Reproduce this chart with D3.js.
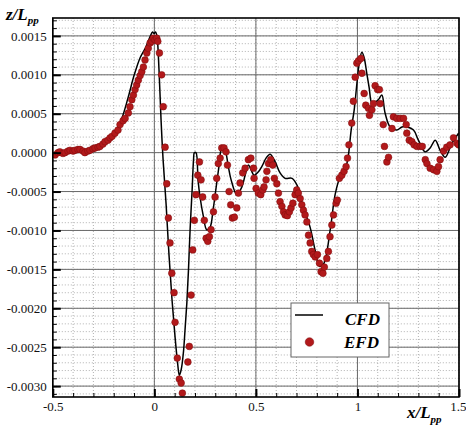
<!DOCTYPE html>
<html lang="en">
<head>
  <meta charset="UTF-8">
  <title>z/Lpp vs x/Lpp</title>
  <style>
    body { margin: 0; background: #fff; }
    svg { display: block; font-family: "Liberation Serif", "Times New Roman", serif; }
    .grid-major line { stroke: #6a6a6a; stroke-width: 1; }
    .grid-minor line { stroke: #a0a0a0; stroke-width: 0.8; stroke-dasharray: 1,2; }
    .axis .tick line { stroke: #000; stroke-width: 2; }
    .axis-minor .tick line { stroke: #000; stroke-width: 1; }
  </style>
</head>
<body>
  <div id="chart"></div>

  <script src="https://d3js.org/d3.v7.min.js"></script>
  <script>
    // tick labels
    const xTicks = [-0.5, 0, 0.5, 1, 1.5];
    const xTickLabels = ["-0.5", "0", "0.5", "1", "1.5"];
    const yTicks = [0.0015, 0.0010, 0.0005, 0.0, -0.0005, -0.0010, -0.0015, -0.0020, -0.0025, -0.0030];
    const yTickLabels = ["0.0015", "0.0010", "0.0005", "0.0000", "-0.0005", "-0.0010", "-0.0015", "-0.0020", "-0.0025", "-0.0030"];

    // CFD curve, [x/Lpp, z/Lpp]
    const cfd = [
      [-0.500, -0.00002], [-0.415, 0.00000], [-0.341, 0.00001], [-0.292, 0.00006], [-0.243, 0.00015],
      [-0.189, 0.00029], [-0.159, 0.00045], [-0.130, 0.00070], [-0.100, 0.00099], [-0.070, 0.00122],
      [-0.041, 0.00136], [-0.021, 0.00149], [-0.009, 0.00155], [-0.001, 0.00153], [0.006, 0.00155],
      [0.013, 0.00149], [0.023, 0.00106], [0.033, 0.00042], [0.043, -0.00009], [0.058, -0.00067],
      [0.072, -0.00131], [0.087, -0.00189], [0.102, -0.00237], [0.114, -0.00269], [0.123, -0.00286],
      [0.132, -0.00279], [0.143, -0.00257], [0.151, -0.00228], [0.160, -0.00193], [0.168, -0.00151],
      [0.176, -0.00099], [0.186, -0.00048], [0.193, -0.00009], [0.197, 0.00000], [0.205, 0.00000],
      [0.215, -0.00035], [0.225, -0.00057], [0.240, -0.00080], [0.258, -0.00099], [0.274, -0.00096],
      [0.289, -0.00074], [0.304, -0.00045], [0.319, -0.00016], [0.332, 0.00006], [0.348, 0.00003],
      [0.363, -0.00016], [0.378, -0.00035], [0.406, -0.00054], [0.431, -0.00044], [0.447, -0.00029],
      [0.463, -0.00016], [0.476, -0.00022], [0.491, -0.00029], [0.511, -0.00025], [0.531, -0.00017],
      [0.550, -0.00007], [0.570, -0.00002], [0.595, -0.00012], [0.619, -0.00026], [0.644, -0.00033],
      [0.678, -0.00033], [0.703, -0.00042], [0.733, -0.00070], [0.767, -0.00096], [0.792, -0.00126],
      [0.813, -0.00146], [0.833, -0.00143], [0.866, -0.00099], [0.890, -0.00054], [0.915, -0.00031],
      [0.939, -0.00022], [0.954, -0.00006], [0.969, 0.00029], [0.984, 0.00055], [0.999, 0.00093],
      [1.011, 0.00119], [1.022, 0.00129], [1.033, 0.00122], [1.046, 0.00102], [1.058, 0.00083],
      [1.071, 0.00064], [1.087, 0.00065], [1.103, 0.00068], [1.120, 0.00074], [1.136, 0.00051],
      [1.161, 0.00033], [1.194, 0.00029], [1.219, 0.00033], [1.245, 0.00033], [1.276, 0.00029],
      [1.300, 0.00016], [1.333, 0.00001], [1.358, 0.00006], [1.383, 0.00016], [1.407, 0.00003],
      [1.432, -0.00006], [1.465, 0.00012], [1.498, 0.00025]
    ];

    // EFD measurements, [x/Lpp, z/Lpp]
    const efd = [
      [-0.489, -0.00003], [-0.474, 0.00000], [-0.465, 0.00001], [-0.450, -0.00001], [-0.440, 0.00000],
      [-0.425, 0.00002], [-0.415, 0.00003], [-0.400, 0.00002], [-0.391, 0.00003], [-0.376, 0.00004],
      [-0.366, 0.00004], [-0.351, 0.00002], [-0.342, 0.00000], [-0.327, 0.00002], [-0.317, 0.00003],
      [-0.302, 0.00005], [-0.292, 0.00006], [-0.277, 0.00007], [-0.268, 0.00008], [-0.253, 0.00011],
      [-0.243, 0.00014], [-0.228, 0.00016], [-0.218, 0.00019], [-0.208, 0.00021], [-0.194, 0.00025],
      [-0.179, 0.00029], [-0.169, 0.00036], [-0.154, 0.00041], [-0.144, 0.00044], [-0.128, 0.00051],
      [-0.120, 0.00059], [-0.111, 0.00068], [-0.103, 0.00074], [-0.095, 0.00081], [-0.087, 0.00087],
      [-0.079, 0.00093], [-0.070, 0.00099], [-0.062, 0.00104], [-0.054, 0.00110], [-0.046, 0.00119],
      [-0.037, 0.00128], [-0.030, 0.00134], [-0.021, 0.00141], [-0.013, 0.00143], [-0.005, 0.00147],
      [0.003, 0.00145], [0.012, 0.00147], [0.017, 0.00143], [0.025, 0.00128], [0.036, 0.00100],
      [0.044, 0.00059], [0.053, 0.00007], [0.061, -0.00040], [0.069, -0.00084], [0.077, -0.00116],
      [0.086, -0.00155], [0.097, -0.00180], [0.102, -0.00218], [0.113, -0.00264], [0.123, -0.00291],
      [0.132, -0.00296], [0.138, -0.00309], [0.165, -0.00269], [0.172, -0.00249], [0.181, -0.00183],
      [0.189, -0.00125], [0.197, -0.00087], [0.205, -0.00054], [0.214, -0.00029], [0.222, -0.00012],
      [0.230, -0.00035], [0.238, -0.00057], [0.246, -0.00087], [0.255, -0.00110], [0.263, -0.00114],
      [0.271, -0.00108], [0.279, -0.00099], [0.291, -0.00076], [0.299, -0.00057], [0.307, -0.00033],
      [0.315, -0.00014], [0.324, -0.00007], [0.332, 0.00006], [0.343, 0.00006], [0.353, 0.00001],
      [0.360, -0.00016], [0.368, -0.00050], [0.376, -0.00067], [0.384, -0.00084], [0.394, -0.00083],
      [0.406, -0.00071], [0.414, -0.00052], [0.422, -0.00039], [0.435, -0.00026], [0.447, -0.00020],
      [0.463, -0.00009], [0.475, -0.00007], [0.488, -0.00020], [0.491, -0.00033], [0.501, -0.00046],
      [0.512, -0.00052], [0.524, -0.00054], [0.534, -0.00048], [0.540, -0.00044], [0.550, -0.00035],
      [0.554, -0.00024], [0.562, -0.00014], [0.573, -0.00009], [0.583, -0.00016], [0.591, -0.00033],
      [0.603, -0.00040], [0.611, -0.00052], [0.619, -0.00063], [0.628, -0.00069], [0.636, -0.00076],
      [0.644, -0.00080], [0.655, -0.00081], [0.665, -0.00076], [0.673, -0.00071], [0.682, -0.00065],
      [0.693, -0.00054], [0.701, -0.00048], [0.709, -0.00052], [0.718, -0.00059], [0.726, -0.00067],
      [0.734, -0.00074], [0.742, -0.00080], [0.751, -0.00089], [0.759, -0.00106], [0.767, -0.00116],
      [0.775, -0.00127], [0.783, -0.00131], [0.792, -0.00134], [0.803, -0.00131], [0.813, -0.00142],
      [0.821, -0.00153], [0.830, -0.00155], [0.837, -0.00147], [0.849, -0.00136], [0.857, -0.00127],
      [0.865, -0.00108], [0.874, -0.00093], [0.882, -0.00080], [0.895, -0.00065], [0.901, -0.00061],
      [0.911, -0.00033], [0.923, -0.00029], [0.934, -0.00024], [0.944, -0.00018], [0.951, -0.00007],
      [0.958, 0.00010], [0.972, 0.00038], [0.980, 0.00066], [0.989, 0.00097], [0.997, 0.00115],
      [1.005, 0.00118], [1.017, 0.00121], [1.022, 0.00102], [1.033, 0.00076], [1.041, 0.00061],
      [1.054, 0.00057], [1.059, 0.00048], [1.071, 0.00055], [1.079, 0.00063], [1.087, 0.00086],
      [1.099, 0.00081], [1.108, 0.00081], [1.112, 0.00063], [1.127, 0.00036], [1.133, 0.00008],
      [1.145, -0.00012], [1.153, -0.00006], [1.170, 0.00031], [1.177, 0.00046], [1.194, 0.00044],
      [1.210, 0.00044], [1.227, 0.00044], [1.240, 0.00036], [1.243, 0.00025], [1.255, 0.00016],
      [1.268, 0.00014], [1.279, 0.00010], [1.293, 0.00008], [1.309, 0.00008], [1.319, 0.00008],
      [1.334, -0.00009], [1.342, -0.00014], [1.358, -0.00020], [1.375, -0.00022], [1.391, -0.00024],
      [1.399, -0.00018], [1.407, -0.00009], [1.424, 0.00002], [1.440, 0.00007], [1.456, 0.00010],
      [1.473, 0.00019], [1.490, 0.00012], [1.498, 0.00010]
    ];

    const width = 466;
    const height = 426;
    const plot = { left: 52.8, right: 459, top: 18, bottom: 397 };
    const serif = '"Liberation Serif", "Times New Roman", serif';

    const svg = d3.select("#chart")
      .append("svg")
      .attr("width", width)
      .attr("height", height);

    const x = d3.scaleLinear().domain([-0.5, 1.5]).range([plot.left, plot.right]);
    const y = d3.scaleLinear().domain([-0.00314, 0.00173]).range([plot.bottom, plot.top]);

    const fmtX = d => xTickLabels[xTicks.indexOf(d)];
    const fmtY = d => yTickLabels[yTicks.indexOf(d)];

    // minor grid (dotted)
    const xMinor = x.ticks(20);
    const yMinor = d3.ticks(-0.0031, 0.0017, 48);

    const gMinor = svg.append("g").attr("class", "grid-minor");
    gMinor.selectAll("line.v")
      .data(xMinor)
      .join("line")
      .attr("class", "v")
      .attr("x1", d => x(d)).attr("x2", d => x(d))
      .attr("y1", plot.top).attr("y2", plot.bottom);
    gMinor.selectAll("line.h")
      .data(yMinor)
      .join("line")
      .attr("class", "h")
      .attr("x1", plot.left).attr("x2", plot.right)
      .attr("y1", d => y(d)).attr("y2", d => y(d));

    // major grid (solid)
    const gMajor = svg.append("g").attr("class", "grid-major");
    gMajor.selectAll("line.v")
      .data(xTicks)
      .join("line")
      .attr("class", "v")
      .attr("x1", d => x(d)).attr("x2", d => x(d))
      .attr("y1", plot.top).attr("y2", plot.bottom);
    gMajor.selectAll("line.h")
      .data(yTicks)
      .join("line")
      .attr("class", "h")
      .attr("x1", plot.left).attr("x2", plot.right)
      .attr("y1", d => y(d)).attr("y2", d => y(d));

    // clip the data to the frame
    svg.append("clipPath").attr("id", "clip")
      .append("rect")
      .attr("x", plot.left).attr("y", plot.top)
      .attr("width", plot.right - plot.left)
      .attr("height", plot.bottom - plot.top);

    const data = svg.append("g").attr("clip-path", "url(#clip)");

    const line = d3.line()
      .x(d => x(d[0]))
      .y(d => y(d[1]))
      .curve(d3.curveCatmullRom.alpha(0.5));

    data.append("path")
      .datum(cfd)
      .attr("fill", "none")
      .attr("stroke", "#000")
      .attr("stroke-width", 1.5)
      .attr("d", line);

    data.append("g")
      .selectAll("circle")
      .data(efd)
      .join("circle")
      .attr("cx", d => x(d[0]))
      .attr("cy", d => y(d[1]))
      .attr("r", 3.4)
      .attr("fill", "#b2191b")
      .attr("stroke", "#7d0c0c")
      .attr("stroke-width", 0.5);

    // axes: ticks point inwards
    const yAxis = svg.append("g")
      .attr("class", "axis")
      .attr("transform", `translate(${plot.left},0)`)
      .call(d3.axisLeft(y).tickValues(yTicks).tickFormat(fmtY).tickSize(-8).tickPadding(6));
    yAxis.select(".domain").remove();

    const yAxisMinor = svg.append("g")
      .attr("class", "axis axis-minor")
      .attr("transform", `translate(${plot.left},0)`)
      .call(d3.axisLeft(y).tickValues(yMinor).tickFormat("").tickSize(-4));
    yAxisMinor.select(".domain").remove();

    const xAxis = svg.append("g")
      .attr("class", "axis")
      .attr("transform", `translate(0,${plot.bottom})`)
      .call(d3.axisBottom(x).tickValues(xTicks).tickFormat(fmtX).tickSize(-8).tickPadding(5));
    xAxis.select(".domain").remove();

    const xAxisMinor = svg.append("g")
      .attr("class", "axis axis-minor")
      .attr("transform", `translate(0,${plot.bottom})`)
      .call(d3.axisBottom(x).tickValues(xMinor).tickFormat("").tickSize(-4));
    xAxisMinor.select(".domain").remove();

    [yAxis, xAxis].forEach(a => a.selectAll("text")
      .style("font-family", serif)
      .style("font-size", "13px")
      .attr("fill", "#111"));

    // last x label sits against the right edge
    xAxis.selectAll(".tick text")
      .filter(d => d === 1.5)
      .attr("text-anchor", "end")
      .attr("dx", 7);

    // frame
    svg.append("rect")
      .attr("x", plot.left).attr("y", plot.top)
      .attr("width", plot.right - plot.left)
      .attr("height", plot.bottom - plot.top)
      .attr("fill", "none")
      .attr("stroke", "#000")
      .attr("stroke-width", 1.6);

    // axis titles
    const zTitle = svg.append("text")
      .attr("x", 6).attr("y", 20)
      .style("font-family", serif)
      .attr("font-weight", "bold").attr("font-style", "italic")
      .attr("font-size", 17);
    zTitle.append("tspan").text("z/L");
    zTitle.append("tspan").attr("font-size", 11).attr("dy", 4).text("pp");

    const xTitle = svg.append("text")
      .attr("x", 407).attr("y", 418)
      .style("font-family", serif)
      .attr("font-weight", "bold").attr("font-style", "italic")
      .attr("font-size", 17);
    xTitle.append("tspan").text("x/L");
    xTitle.append("tspan").attr("font-size", 11).attr("dy", 5).text("pp");

    // legend
    const legend = svg.append("g").style("font-family", serif);
    legend.append("rect")
      .attr("x", 291).attr("y", 303)
      .attr("width", 98).attr("height", 54)
      .attr("fill", "#fff")
      .attr("stroke", "#666")
      .attr("stroke-width", 1);
    legend.append("line")
      .attr("x1", 295).attr("x2", 323)
      .attr("y1", 315).attr("y2", 315)
      .attr("stroke", "#000").attr("stroke-width", 1.5);
    legend.append("circle")
      .attr("cx", 309.5).attr("cy", 342)
      .attr("r", 4.3)
      .attr("fill", "#b2191b").attr("stroke", "#7d0c0c").attr("stroke-width", 0.5);
    legend.append("text")
      .attr("x", 380).attr("y", 325)
      .attr("text-anchor", "end")
      .attr("font-weight", "bold").attr("font-style", "italic")
      .attr("font-size", 17)
      .text("CFD");
    legend.append("text")
      .attr("x", 379).attr("y", 348)
      .attr("text-anchor", "end")
      .attr("font-weight", "bold").attr("font-style", "italic")
      .attr("font-size", 17)
      .text("EFD");
  </script>
</body>
</html>
